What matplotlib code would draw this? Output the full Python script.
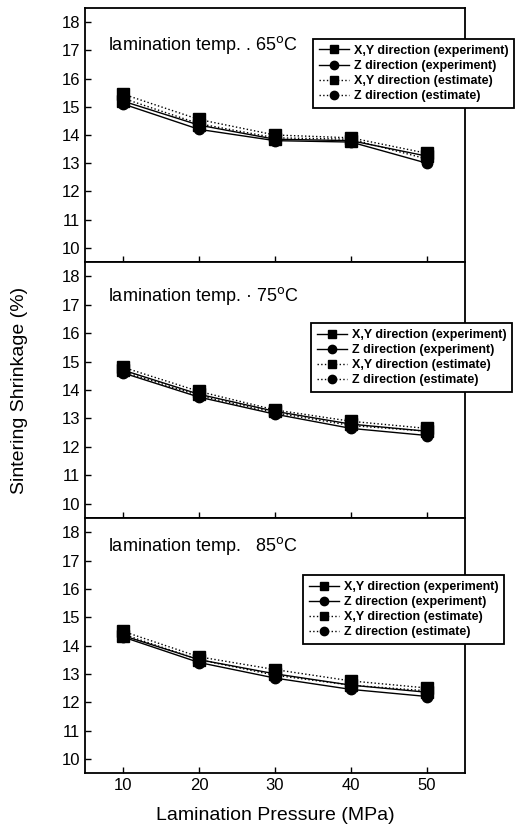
import numpy as np
import matplotlib.pyplot as plt
from matplotlib.lines import Line2D

plt.rcParams["font.family"] = ["Liberation Sans", "DejaVu Sans"]

# ------------------------------------
# Data
# ------------------------------------
pressure = [10, 20, 30, 40, 50]
temps = ["65", "75", "85"]
temp_prefix = ["lamination temp. . ", "lamination temp. \u00b7 ", "lamination temp.   "]

xy_exp = [
    [15.2, 14.35, 13.85, 13.8, 13.25],
    [14.7, 13.85, 13.25, 12.8, 12.55],
    [14.35, 13.5, 13.0, 12.6, 12.35],
]
z_exp = [
    [15.1, 14.2, 13.8, 13.75, 13.0],
    [14.6, 13.75, 13.15, 12.65, 12.4],
    [14.3, 13.4, 12.85, 12.45, 12.2],
]
xy_est = [
    [15.45, 14.55, 14.0, 13.9, 13.35],
    [14.8, 13.95, 13.3, 12.9, 12.65],
    [14.5, 13.6, 13.15, 12.75, 12.5],
]
z_est = [
    [15.3, 14.4, 13.9, 13.85, 13.15],
    [14.65, 13.8, 13.2, 12.75, 12.55],
    [14.4, 13.5, 12.95, 12.6, 12.4],
]

legend_labels = [
    "X,Y direction (experiment)",
    "Z direction (experiment)",
    "X,Y direction (estimate)",
    "Z direction (estimate)",
]

yticks = [10, 11, 12, 13, 14, 15, 16, 17, 18]

# ------------------------------------
# Figure
# ------------------------------------
W, H = 515, 830
fig = plt.figure(figsize=(W / 100, H / 100), dpi=100)

left, right = 85 / W, 465 / W
panel_px = [(8, 262), (262, 518), (518, 773)]
legend_pos = [(307, 33), (305, 317), (297, 569)]
text_y = [0.855, 0.867, 0.89]

handles = [
    Line2D([], [], color="black", lw=1, marker="s", ms=6),
    Line2D([], [], color="black", lw=1, marker="o", ms=6),
    Line2D([], [], color="black", lw=1, ls=":", marker="s", ms=6),
    Line2D([], [], color="black", lw=1, ls=":", marker="o", ms=6),
]

for i in range(3):
    top, bot = panel_px[i]
    ax = fig.add_axes([left, 1 - bot / H, right - left, (bot - top) / H])

    ax.plot(pressure, xy_exp[i], color="black", lw=1, marker="s", ms=8)
    ax.plot(pressure, z_exp[i], color="black", lw=1, marker="o", ms=7.5)
    ax.plot(pressure, xy_est[i], color="black", lw=1, ls=":", marker="s", ms=8)
    ax.plot(pressure, z_est[i], color="black", lw=1, ls=":", marker="o", ms=7.5)

    ax.set_xlim(5, 55)
    ax.set_ylim(9.5, 18.5)
    ax.set_yticks(yticks)
    ax.set_xticks(pressure)
    ax.tick_params(direction="in", length=4, width=1, labelsize=12)
    for s in ax.spines.values():
        s.set_linewidth(1.3)
    if i < 2:
        ax.tick_params(labelbottom=False)

    ax.text(0.06, text_y[i], temp_prefix[i] + temps[i] + r"$^\mathrm{o}$C",
            transform=ax.transAxes, fontsize=13, va="center", ha="left")

    lx, ly = legend_pos[i]
    leg = fig.legend(handles, legend_labels, loc="upper left",
                     bbox_to_anchor=(lx / W, 1 - ly / H),
                     bbox_transform=fig.transFigure,
                     prop={"size": 9, "weight": "bold"},
                     handlelength=2.4, handletextpad=0.4,
                     borderpad=0.45, labelspacing=0.25,
                     fancybox=False, edgecolor="black", framealpha=1)
    leg.get_frame().set_linewidth(1.3)

ax.set_xlabel("Lamination Pressure (MPa)", fontsize=14, labelpad=10)
fig.text(20 / W, 1 - 390 / H, "Sintering Shrinkage (%)", rotation=90,
         fontsize=14, ha="center", va="center")

fig.savefig("out.png", dpi=100)
